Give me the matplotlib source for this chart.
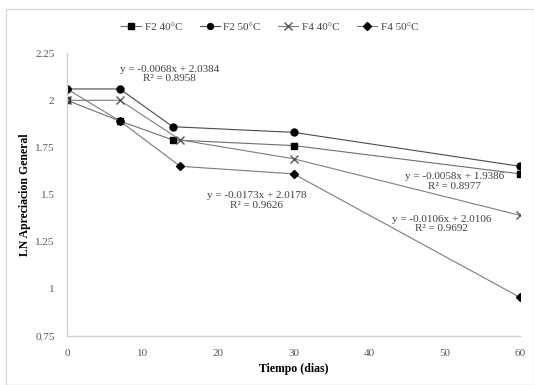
import matplotlib
matplotlib.use("Agg")
import matplotlib.pyplot as plt
from matplotlib.patches import Rectangle

plt.rcParams['font.family'] = ['Liberation Serif', 'DejaVu Serif']

# ── Data ─────────────────────────────────────────────────────────────────────
x_f2_40 = [0, 7, 14, 30, 60]
y_f2_40 = [2.00, 1.89, 1.79, 1.76, 1.61]

x_f2_50 = [0, 7, 14, 30, 60]
y_f2_50 = [2.06, 2.06, 1.86, 1.83, 1.65]

x_f4_40 = [0, 7, 15, 30, 60]
y_f4_40 = [2.00, 2.00, 1.79, 1.69, 1.39]

x_f4_50 = [0, 7, 15, 30, 60]
y_f4_50 = [2.06, 1.89, 1.65, 1.61, 0.955]

labels = ["F2 40°C", "F2 50°C", "F4 40°C", "F4 50°C"]
equations = [
    ("y = -0.0068x + 2.0384\nR² = 0.8958", 13.6, 2.14),
    ("y = -0.0173x + 2.0178\nR² = 0.9626", 25.1, 1.47),
    ("y = -0.0106x + 2.0106\nR² = 0.9692", 49.6, 1.345),
    ("y = -0.0058x + 1.9386\nR² = 0.8977", 51.3, 1.57),
]

# ── Plot ─────────────────────────────────────────────────────────────────────
fig = plt.figure(figsize=(5.34, 3.85), dpi=100)
ax = fig.add_axes([0.1255, 0.127, 0.8485, 0.735])

fig.patches.append(Rectangle((6 / 534, 0.0), 1 - 6 / 534, 1 - 9 / 385,
                             transform=fig.transFigure, fill=False,
                             edgecolor="#d9d9d9", linewidth=1))

series = [
    (x_f2_40, y_f2_40, "s", 5, "#6e6e6e"),
    (x_f2_50, y_f2_50, "o", 5, "#4a4a4a"),
    (x_f4_40, y_f4_40, "x", 6, "#7e7e7e"),
    (x_f4_50, y_f4_50, "D", 4.5, "#7a7a7a"),
]
for (xs, ys, m, ms, lc), lab in zip(series, labels):
    mec = "#555555" if m == "x" else "black"
    ax.plot(xs, ys, color=lc, linewidth=0.8, marker=m, markersize=ms,
            markerfacecolor="black", markeredgecolor=mec, markeredgewidth=1.0,
            label=lab)

for txt, tx, ty in equations:
    ax.text(tx, ty, txt, ha="center", va="center", fontsize=8, color="#404040",
            linespacing=1.1)

ax.set_xlim(0, 60)
ax.set_ylim(0.75, 2.25)
ax.set_xticks([0, 10, 20, 30, 40, 50, 60])
ax.set_yticks([0.75, 1, 1.25, 1.5, 1.75, 2, 2.25])
ax.set_yticklabels(["0.75", "1", "1.25", "1.5", "1.75", "2", "2.25"])
ax.tick_params(length=0, labelsize=8, labelcolor="#595959", pad=9)

for s in ["top", "right"]:
    ax.spines[s].set_visible(False)
for s in ["left", "bottom"]:
    ax.spines[s].set_color("#d0d0d0")
    ax.spines[s].set_linewidth(1)

ax.set_xlabel("Tiempo (dias)", fontsize=8.5, fontweight="bold", labelpad=4)
ax.set_ylabel("LN Apreciacion General", fontsize=8.5, fontweight="bold", labelpad=3)

fig.legend(loc="center", bbox_to_anchor=(0.505, 0.93), ncol=4, frameon=False,
           fontsize=8, handlelength=1.8, columnspacing=1.6, handletextpad=0.3,
           labelcolor="#404040", markerscale=0.85)

fig.savefig("out.png", dpi=100)
